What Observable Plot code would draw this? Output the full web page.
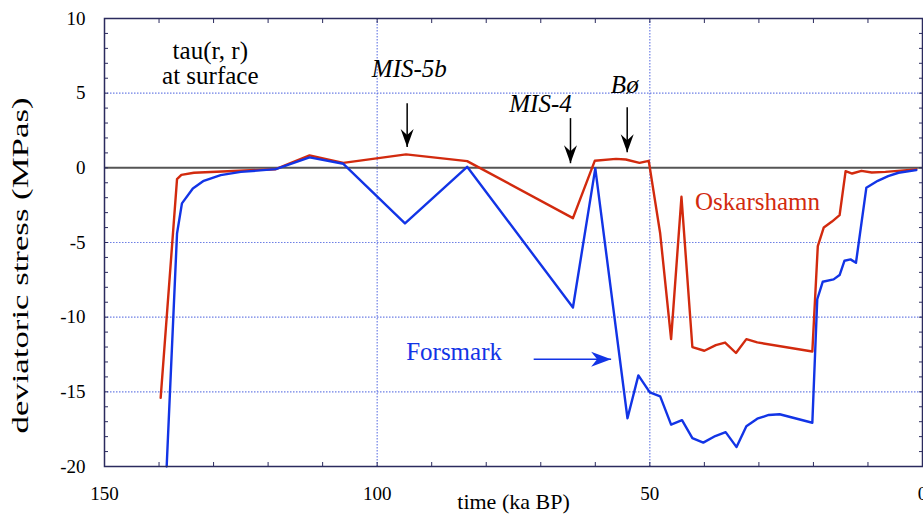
<!DOCTYPE html>
<html><head><meta charset="utf-8">
<script src="https://cdn.jsdelivr.net/npm/d3@7"></script>
<script src="https://cdn.jsdelivr.net/npm/@observablehq/plot@0.6"></script>
<style>body{margin:0;background:#fff}</style>
</head><body><div id="chart"></div>
<script>
// Oskarshamn series (time ka BP, deviatoric stress MPas)
const oskarshamnTime   = [139.7,136.7,135.9,133.6,118.6,112.4,106.2,94.7,83.5,64.1,60.1,56.2,54.4,51.9,50.2,48.1,46.1,44.2,42.2,40.0,37.9,36.2,34.2,32.3,30.3,20.2,19.2,18.1,16.6,15.2,14.1,12.9,11.2,9.3,6.8,1.15];
const oskarshamnStress = [-15.4,-0.76,-0.47,-0.33,-0.09,0.83,0.33,0.9,0.45,-3.37,0.47,0.6,0.56,0.33,0.47,-4.4,-11.47,-1.94,-12.0,-12.25,-11.87,-11.7,-12.4,-11.47,-11.69,-12.3,-5.24,-3.99,-3.6,-3.17,-0.22,-0.38,-0.2,-0.31,-0.27,-0.1];
// Forsmark series
const forsmarkTime   = [138.6,136.7,135.8,133.8,131.8,128.7,125.0,118.6,112.4,106.2,94.9,83.5,64.1,60.0,54.1,52.1,50.0,48.1,46.1,44.1,42.2,40.2,38.0,36.1,34.1,32.3,30.3,28.2,26.2,20.2,19.3,18.3,16.3,15.2,14.3,13.2,12.2,10.3,8.2,6.3,4.4,1.15];
const forsmarkStress = [-20,-4.4,-2.38,-1.38,-0.87,-0.49,-0.27,-0.09,0.7,0.27,-3.72,0.07,-9.35,-0.04,-16.77,-13.9,-15.04,-15.3,-17.2,-16.9,-18.1,-18.4,-17.96,-17.7,-18.7,-17.3,-16.8,-16.55,-16.5,-17.07,-8.8,-7.63,-7.47,-7.18,-6.22,-6.13,-6.36,-1.34,-0.87,-0.56,-0.33,-0.15];

// axis ticks
const xTickLabels = [150, 100, 50, 0];
const yTickLabels = [-20, -15, -10, -5, 0, 5, 10];
const xGrid = [100, 50];
const yGrid = [-15, -10, -5, 5];
const xMinorTicks = d3.range(0, 151, 10);
const yMinorTicks = d3.range(-20, 11, 1);
const xLabel = "time (ka BP)";
const yLabel = "deviatoric stress (MPas)";

// annotations
const eventLabels = ["MIS-5b", "MIS-4", "Bø"];
const eventLabelX = [94.1, 70.05, 54.6];
const eventLabelY = [6.6, 4.26, 5.53];
const eventArrowX = [94.5, 64.55, 54.15];
const eventArrowTop = [4.33, 3.33, 4.06];
const eventArrowTip = [1.39, 0.31, 1.05];
const seriesNames = ["Oskarshamn", "Forsmark"];
const seriesNameX = [30.25, 85.9];
const seriesNameY = [-2.3, -12.35];
const forsmarkArrowX = [71.3, 57.1];
const forsmarkArrowY = -12.82;
const noteLabel = "tau(r, r)\nat surface";
const noteX = 130.6, noteY = 7.0;

const RED = "#d22a0e", BLUE = "#1234e6";
const SERIF = "Liberation Serif";

const osk = oskarshamnTime.map((t, i) => ({t, s: oskarshamnStress[i]}));
const fors = forsmarkTime.map((t, i) => ({t, s: forsmarkStress[i]}));
const events = eventLabels.map((name, i) => ({name, lx: eventLabelX[i], ly: eventLabelY[i], ax: eventArrowX[i], a1: eventArrowTop[i], a2: eventArrowTip[i]}));
const names = seriesNames.map((name, i) => ({name, x: seriesNameX[i], y: seriesNameY[i], c: i === 0 ? RED : BLUE}));

const headDown = {draw(ctx) { ctx.moveTo(0, 0); ctx.lineTo(-6.5, -18); ctx.lineTo(0, -12); ctx.lineTo(6.5, -18); ctx.closePath(); }};
const headRight = {draw(ctx) { ctx.moveTo(0, 0); ctx.lineTo(-20, -7.5); ctx.lineTo(-14, 0); ctx.lineTo(-20, 7.5); ctx.closePath(); }};

const gridStyle = {stroke: "#5468e0", strokeDasharray: "1.5,1.5", strokeWidth: 1.2, strokeOpacity: 0.85};
const fmt = d => String(d);

const chart = Plot.plot({
  width: 923, height: 516,
  marginLeft: 104, marginRight: 1, marginTop: 18, marginBottom: 50,
  style: {fontFamily: SERIF, fontSize: "19px", background: "#fff"},
  x: {domain: [150, 0]},
  y: {domain: [-20, 10]},
  marks: [
    Plot.ruleY(yGrid, gridStyle),
    Plot.ruleX(xGrid, gridStyle),
    Plot.ruleY([0], {stroke: "#555", strokeWidth: 2}),
    Plot.axisY(yMinorTicks, {anchor: "left", tickSize: -4, text: null, stroke: "#2b2b5e", label: null}),
    Plot.axisY(yMinorTicks, {anchor: "right", tickSize: -4, text: null, stroke: "#2b2b5e", label: null}),
    Plot.axisX(xMinorTicks, {anchor: "bottom", tickSize: -4, text: null, stroke: "#2b2b5e", label: null}),
    Plot.axisX(xMinorTicks, {anchor: "top", tickSize: -4, text: null, stroke: "#2b2b5e", label: null}),
    Plot.axisY(yTickLabels, {anchor: "left", tickSize: 0, tickPadding: 19, tickFormat: fmt, label: null, fontSize: 19, fontFamily: SERIF, fill: "#000"}),
    Plot.axisX(xTickLabels, {anchor: "bottom", tickSize: 0, tickPadding: 20, tickFormat: fmt, label: null, fontSize: 19, fontFamily: SERIF, fill: "#000"}),
    Plot.line(osk, {x: "t", y: "s", stroke: RED, strokeWidth: 2.4}),
    Plot.line(fors, {x: "t", y: "s", stroke: BLUE, strokeWidth: 2.4}),
    Plot.frame({stroke: "#2b2b5e", strokeWidth: 1.5}),
    Plot.text([noteLabel], {x: noteX, y: noteY, fontSize: 25, lineHeight: 1.0, fontFamily: SERIF, fill: "#000"}),
    Plot.text(events, {x: "lx", y: "ly", text: "name", fontSize: 25, fontStyle: "italic", fontFamily: SERIF, fill: "#000"}),
    Plot.link(events, {x1: "ax", x2: "ax", y1: "a1", y2: "a2", stroke: "#000", strokeWidth: 1.5}),
    Plot.dot(events, {x: "ax", y: "a2", symbol: headDown, fill: "#000", stroke: null}),
    Plot.text(names, {x: "x", y: "y", text: "name", fill: "c", fontSize: 25, fontFamily: SERIF}),
    Plot.link([0], {x1: forsmarkArrowX[0], x2: forsmarkArrowX[1], y1: forsmarkArrowY, y2: forsmarkArrowY, stroke: BLUE, strokeWidth: 1.5}),
    Plot.dot([0], {x: forsmarkArrowX[1], y: forsmarkArrowY, symbol: headRight, fill: BLUE, stroke: null}),
    Plot.text([xLabel], {frameAnchor: "bottom", dy: 42, fontSize: 22, fontFamily: SERIF, fill: "#000"}),
    Plot.text([yLabel], {frameAnchor: "left", textAnchor: "middle", dx: -84, dy: 23, rotate: -90, fontSize: 23, fontFamily: SERIF, fill: "#000"})
  ]
});
d3.select(chart).selectAll("text").filter(function() { return this.textContent === yLabel; })
  .attr("textLength", 336).attr("lengthAdjust", "spacingAndGlyphs");
document.getElementById("chart").append(chart);
</script>
</body></html>
